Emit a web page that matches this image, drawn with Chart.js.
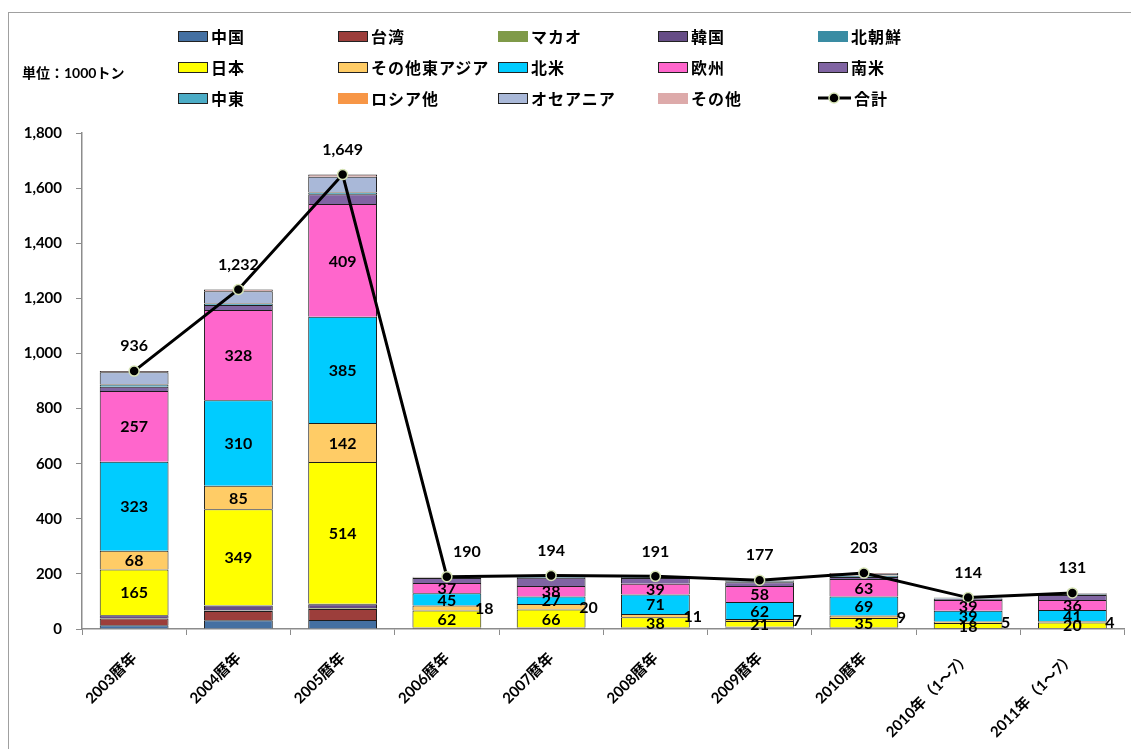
<!DOCTYPE html>
<html>
<head>
<meta charset="utf-8">
<script src="https://cdn.jsdelivr.net/npm/chart.js@4"></script>
<style>
    body { margin: 0; background: #fff; }
    #wrap { position: relative; width: 1131px; height: 749px; overflow: hidden; }
    #frame { position: absolute; left: 8px; top: 12px; width: 1140px; height: 760px; border: 1px solid #a0a0a0; }
    #chart { position: absolute; left: 0; top: 0; }
    #unit { position: absolute; left: 22px; top: 62px; font: bold 14px Lato, "Noto Sans CJK JP", sans-serif; color: #000; }
    .legend-item { position: absolute; display: flex; align-items: center; font: bold 16px "Noto Sans CJK JP", sans-serif; letter-spacing: 1px; color: #000; white-space: nowrap; }
    .legend-box { width: 30px; height: 11px; margin-right: 3px; box-sizing: border-box; }
</style>
</head>
<body>
<div id="wrap">
    <div id="frame"></div>
    <canvas id="chart" width="1131" height="749"></canvas>
    <div id="unit">単位：1000トン</div>
    <div id="legend"></div>
</div>
<script>
/* data (1000 tons) */
const years = ["2003暦年", "2004暦年", "2005暦年", "2006暦年", "2007暦年", "2008暦年", "2009暦年", "2010暦年", "2010年（1～7）", "2011年（1～7）"];

const china        = [14, 32, 33, 2, 2, 2, 3, 2, 1, 2];
const taiwan       = [24, 33, 40, 2, 2, 1, 2, 1, 1, 1];
const macao        = [2, 2, 2, 0, 0, 0, 0, 0, 0, 0];
const korea        = [10, 18, 15, 1, 1, 2, 3, 2, 2, 1];
const northKorea   = [1, 1, 2, 0, 0, 0, 0, 0, 0, 0];
const japan        = [165, 349, 514, 62, 66, 38, 21, 35, 18, 20];
const eastAsia     = [68, 85, 142, 18, 20, 11, 7, 9, 5, 4];
const northAmerica = [323, 310, 385, 45, 27, 71, 62, 69, 39, 41];
const europe       = [257, 328, 409, 37, 38, 39, 58, 63, 39, 36];
const southAmerica = [15, 18, 36, 18, 30, 21, 14, 8, 5, 18];
const middleEast   = [8, 5, 6, 1, 3, 3, 3, 3, 2, 3];
const russia       = [2, 2, 2, 1, 1, 1, 1, 2, 0, 0];
const oceania      = [43, 43, 55, 2, 3, 1, 2, 6, 1, 3];
const others       = [4, 6, 8, 1, 1, 1, 1, 3, 1, 2];
const totals       = [936, 1232, 1649, 190, 194, 191, 177, 203, 114, 131];

const yTicks = [0, 200, 400, 600, 800, 1000, 1200, 1400, 1600, 1800];

const numFont = 'Lato, "Noto Sans CJK JP", sans-serif';

// label, values, color, legend border, show value labels
const series = [
    ["中国", china, "#4470A2", true, false],
    ["台湾", taiwan, "#9C3E3B", true, false],
    ["マカオ", macao, "#7F9A48", false, false],
    ["韓国", korea, "#664D86", true, false],
    ["北朝鮮", northKorea, "#3A8CA3", false, false],
    ["日本", japan, "#FFFF00", true, true],
    ["その他東アジア", eastAsia, "#FFCC66", true, true],
    ["北米", northAmerica, "#00CCFF", true, true],
    ["欧州", europe, "#FF66CC", true, true],
    ["南米", southAmerica, "#8064A2", true, false],
    ["中東", middleEast, "#4BACC6", true, false],
    ["ロシア他", russia, "#F79646", false, false],
    ["オセアニア", oceania, "#A9B8D8", true, false],
    ["その他", others, "#DDAAAA", false, false]
];

const datasets = series.map(s => ({
    type: "bar",
    label: s[0],
    data: s[1],
    backgroundColor: s[2],
    borderColor: "#1c1c1c",
    borderWidth: 1,
    stack: "area",
    order: 1,
    showValue: s[4],
    legendBorder: s[3]
}));

datasets.push({
    type: "line",
    label: "合計",
    data: totals,
    borderColor: "#000",
    borderWidth: 3,
    pointRadius: 5,
    pointBackgroundColor: "#000",
    pointBorderColor: "#d6e3b5",
    pointBorderWidth: 1.5,
    tension: 0,
    stack: "total",
    order: 0
});

/*
    value labels inside the segments and above the total line
*/
const valueLabels = {
    id: "valueLabels",
    afterDraw(chart) {
        const ctx = chart.ctx;
        ctx.save();
        ctx.fillStyle = "#000";
        ctx.font = "bold 16px " + numFont;
        ctx.textAlign = "center";
        ctx.textBaseline = "middle";

        chart.data.datasets.forEach((ds, di) => {
            const meta = chart.getDatasetMeta(di);
            if (ds.type === "bar" && ds.showValue) {
                meta.data.forEach((el, i) => {
                    const p = el.getProps(["x", "y", "base", "width"], true);
                    const cy = (p.y + p.base) / 2;
                    const h = Math.abs(p.base - p.y);
                    let cx = p.x;
                    // thin segments get the label at the bar's right edge
                    if (h < 12 && ds.label === "その他東アジア") {
                        cx = p.x + p.width / 2 + 3;
                    }
                    ctx.fillText(ds.data[i], cx, cy + 1);
                });
            }
            if (ds.type === "line") {
                meta.data.forEach((el, i) => {
                    const shift = i === 3 ? 20 : 0;
                    ctx.fillText(ds.data[i].toLocaleString("en-US"), el.x + shift, el.y - 25);
                });
            }
        });
        ctx.restore();
    }
};

const ctx = document.getElementById("chart").getContext("2d");
const chart = new Chart(ctx, {
    data: { labels: years, datasets: datasets },
    options: {
        responsive: false,
        animation: false,
        layout: { padding: { top: 133, right: 3, left: 0, bottom: 0 } },
        plugins: {
            legend: { display: false },
            tooltip: { enabled: false }
        },
        datasets: {
            bar: { categoryPercentage: 1, barPercentage: 0.66 }
        },
        scales: {
            x: {
                stacked: true,
                offset: true,
                grid: { display: true, drawOnChartArea: false, offset: true, tickLength: 6, color: "#8c8c8c" },
                border: { display: true, color: "#8c8c8c", width: 1.5 },
                ticks: {
                    color: "#000",
                    font: { family: numFont, size: 15, weight: "bold" },
                    minRotation: 45,
                    maxRotation: 45,
                    padding: 14,
                    autoSkip: false
                },
                afterFit: s => { s.height = 120; }
            },
            y: {
                stacked: true,
                min: 0,
                max: 1800,
                afterBuildTicks: s => { s.ticks = yTicks.map(v => ({ value: v })); },
                grid: { display: true, drawOnChartArea: false, tickLength: 6, color: "#8c8c8c" },
                border: { display: true, color: "#8c8c8c", width: 1.5 },
                ticks: {
                    color: "#000",
                    padding: 14,
                    font: { family: numFont, size: 15, weight: "bold" },
                    callback: v => v.toLocaleString("en-US")
                },
                afterFit: s => { s.width = 82; }
            }
        }
    },
    plugins: [valueLabels]
});

/*
    legend in a 5 column grid
*/
const legend = document.getElementById("legend");
datasets.forEach((ds, i) => {
    const col = i % 5;
    const row = Math.floor(i / 5);
    const item = document.createElement("div");
    item.className = "legend-item";
    item.style.left = (178 + col * 160) + "px";
    item.style.top = (24 + row * 31) + "px";

    if (ds.type === "line") {
        item.innerHTML = `
            <svg width="33" height="14" style="margin-right:3px">
                <line x1="0" y1="7" x2="33" y2="7" stroke="#000" stroke-width="3"></line>
                <circle cx="16" cy="7" r="5" fill="#000" stroke="#d6e3b5" stroke-width="1.5"></circle>
            </svg>
            <span>${ds.label}</span>`;
    } else {
        const border = ds.legendBorder ? "border:1.5px solid #222;" : "";
        item.innerHTML = `
            <span class="legend-box" style="background:${ds.backgroundColor};${border}"></span>
            <span>${ds.label}</span>`;
    }
    legend.appendChild(item);
});
</script>
</body>
</html>
